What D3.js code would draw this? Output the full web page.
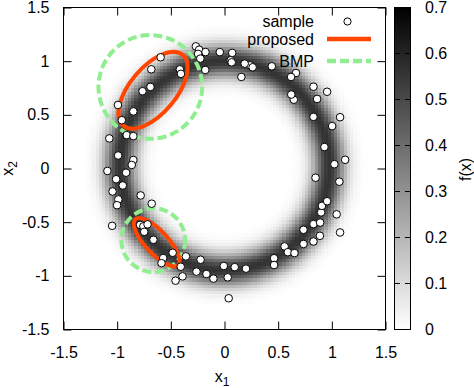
<!DOCTYPE html>
<html>
<head>
<meta charset="utf-8">
<script src="https://cdn.jsdelivr.net/npm/d3@7"></script>
<style>
  body { margin: 0; background: #fff; }
  text { font-family: "Liberation Sans", Arial, sans-serif; fill: #000; }
</style>
</head>
<body>
<div id="chart"></div>
<script>
// axis ticks
const xTicks = [-1.5, -1, -0.5, 0, 0.5, 1, 1.5];
const yTicks = [-1.5, -1, -0.5, 0, 0.5, 1, 1.5];
const cbTicks = [0, 0.1, 0.2, 0.3, 0.4, 0.5, 0.6, 0.7];

// ring shaped target density f(x)
const ringCenter = [0, 0.03];
const ringRadius = 0.975;
const ringSigma = 0.105;
const ringPeak = 0.56;

// samples [x1, x2]
const samples = [
    [-0.595, 1.036], [-0.682, 0.924], [-0.416, 0.924], [-0.406, 0.882], [-0.690, 0.760],
    [-0.764, 0.720], [-0.849, 0.532], [-0.993, 0.592], [-0.957, 0.450], [-0.911, 0.311],
    [-0.849, 0.302], [-1.073, 0.280], [-0.991, 0.121], [-0.849, 0.079], [-0.864, 0.033],
    [-1.091, -0.023], [-0.917, -0.039], [-1.010, -0.100], [-0.948, -0.158], [-1.043, -0.214],
    [-0.781, -0.251], [-0.989, -0.288], [-1.001, -0.342], [-0.678, -0.328], [-1.047, -0.534],
    [-0.787, -0.525], [-0.756, -0.539], [-0.717, -0.520], [-0.748, -0.590], [-0.662, -0.664],
    [-0.483, -0.785], [-0.571, -0.834], [-0.360, -0.819], [-0.408, -0.915], [-0.391, -1.005],
    [-0.456, -1.045], [-0.223, -0.850], [-0.261, -0.961], [-0.168, -0.983], [-0.103, -1.026],
    [-0.007, -0.908], [0.095, -0.919], [0.030, -1.014], [0.039, -1.209], [0.200, -0.933],
    [0.462, -0.836], [0.462, -0.899], [0.560, -0.726], [0.590, -0.780], [0.652, -0.788],
    [0.736, -0.571], [0.736, -0.703], [0.829, -0.518], [0.829, -0.680], [0.889, -0.627],
    [0.891, -0.504], [0.900, -0.409], [0.908, -0.348], [0.956, -0.305], [1.045, -0.427],
    [1.077, -0.596], [0.848, -0.086], [1.070, -0.123], [1.024, 0.040], [1.124, 0.081],
    [0.931, 0.200], [1.003, 0.395], [0.829, 0.481], [1.077, 0.478], [0.646, 0.641],
    [0.622, 0.689], [0.863, 0.648], [0.829, 0.762], [0.956, 0.715], [0.666, 0.890],
    [0.620, 0.853], [0.441, 0.952], [0.239, 0.961], [0.262, 0.943], [0.188, 0.977],
    [0.157, 0.853], [0.072, 1.077], [0.058, 1.008], [0.067, 0.989], [-0.044, 1.084],
    [-0.267, 1.138], [-0.236, 1.107], [-0.177, 1.085], [-0.246, 1.068], [-0.225, 1.024],
    [-0.179, 0.918], [-0.587, -0.882]
];

// ellipses [cx, cy, semi-axis a, semi-axis b, angle in degrees]
const proposed = [
    [-0.666, 0.729, 0.43, 0.215, 50],
    [-0.632, -0.687, 0.292, 0.105, -47]
];
const bmp = [
    [-0.691, 0.760, 0.483, 0.483, 0],
    [-0.664, -0.667, 0.297, 0.297, 0]
];

const legendLabels = ['sample', 'proposed', 'BMP'];

class RingChart {

    constructor() {
        this.svg = d3.select('#chart')
            .append('svg')
            .attr('width', 474)
            .attr('height', 388)
        ;
        this.left = 63.5;
        this.right = 385.5;
        this.top = 7.5;
        this.bottom = 329.5;
        this.x = d3.scaleLinear().domain([-1.5, 1.5]).range([this.left, this.right]);
        this.y = d3.scaleLinear().domain([-1.5, 1.5]).range([this.bottom, this.top]);
        this.color = d3.scaleLinear().domain([0, 0.7]).range(['#ffffff', '#000000']).clamp(true);

        this.drawDensity();
        this.drawEllipses();
        this.drawSamples();
        this.drawAxes();
        this.drawColorBar();
        this.drawLegend();
    };

    density(a, b) {
        let r = Math.hypot(a - ringCenter[0], b - ringCenter[1]);
        return ringPeak * Math.exp(-(r - ringRadius) * (r - ringRadius) / (2 * ringSigma * ringSigma));
    }

    drawDensity() {
        // 100 x 100 grid like the pm3d map
        let n = 100;
        let step = 3 / n;
        let cells = [];
        for (let i = 0; i < n; i++) {
            for (let j = 0; j < n; j++) {
                let x0 = -1.5 + i * step;
                let y0 = -1.5 + j * step;
                cells.push({x0: x0, y0: y0, v: this.density(x0 + step / 2, y0 + step / 2)});
            }
        }
        let thiss = this;
        this.svg.append('g')
            .selectAll('rect')
            .data(cells.filter(d => d.v > 0.004))
            .enter()
            .append('rect')
            .attr('x', d => thiss.x(d.x0))
            .attr('y', d => thiss.y(d.y0 + step))
            .attr('width', thiss.x(step) - thiss.x(0) + 0.4)
            .attr('height', thiss.y(0) - thiss.y(step) + 0.4)
            .attr('shape-rendering', 'crispEdges')
            .style('fill', d => thiss.color(d.v))
        ;
    }

    ellipse(g, list, color, dash) {
        let thiss = this;
        g.selectAll(null)
            .data(list)
            .enter()
            .append('ellipse')
            .attr('cx', 0)
            .attr('cy', 0)
            .attr('rx', d => thiss.x(d[2]) - thiss.x(0))
            .attr('ry', d => thiss.x(d[3]) - thiss.x(0))
            .attr('transform', d => `translate(${thiss.x(d[0])}, ${thiss.y(d[1])}) rotate(${-d[4]})`)
            .style('fill', 'none')
            .style('stroke', color)
            .style('stroke-width', 4)
            .style('stroke-dasharray', dash)
        ;
    }

    drawEllipses() {
        let g = this.svg.append('g');
        this.ellipse(g, bmp, '#90ee90', '9,4');
        this.ellipse(g, proposed, '#ff4500', null);
    }

    drawSamples() {
        let thiss = this;
        this.svg.append('g')
            .selectAll('circle')
            .data(samples)
            .enter()
            .append('circle')
            .attr('cx', d => thiss.x(d[0]))
            .attr('cy', d => thiss.y(d[1]))
            .attr('r', 3.8)
            .style('fill', 'white')
            .style('stroke', 'black')
            .style('stroke-width', 1)
        ;
    }

    drawAxes() {
        let fmt = d => String(d);
        let bottom = this.svg.append('g')
            .attr('transform', `translate(0, ${this.bottom})`)
            .call(d3.axisBottom(this.x).tickValues(xTicks).tickSize(-8).tickPadding(17.5).tickFormat(fmt));
        let topAx = this.svg.append('g')
            .attr('transform', `translate(0, ${this.top})`)
            .call(d3.axisTop(this.x).tickValues(xTicks).tickSize(-8).tickFormat(''));
        let leftAx = this.svg.append('g')
            .attr('transform', `translate(${this.left}, 0)`)
            .call(d3.axisLeft(this.y).tickValues(yTicks).tickSize(-8).tickPadding(14).tickFormat(fmt));
        let rightAx = this.svg.append('g')
            .attr('transform', `translate(${this.right}, 0)`)
            .call(d3.axisRight(this.y).tickValues(yTicks).tickSize(-8).tickFormat(''));
        [bottom, topAx, leftAx, rightAx].forEach(g => {
            g.select('.domain').remove();
            g.selectAll('text').style('font-size', '16px').style('font-family', '"Liberation Sans", Arial, sans-serif');
            g.selectAll('line').attr('stroke', '#000');
        });
        // frame
        this.svg.append('rect')
            .attr('x', this.left)
            .attr('y', this.top)
            .attr('width', this.right - this.left)
            .attr('height', this.bottom - this.top)
            .style('fill', 'none')
            .style('stroke', 'black')
            .style('stroke-width', 1)
        ;
        // axis titles
        let xt = this.svg.append('text')
            .attr('x', 222)
            .attr('y', 382)
            .attr('text-anchor', 'middle')
            .style('font-size', '16px')
        ;
        xt.append('tspan').text('x');
        xt.append('tspan').text('1').attr('dy', 4).style('font-size', '12px');
        let yt = this.svg.append('text')
            .attr('transform', 'translate(13, 168.5) rotate(-90)')
            .attr('text-anchor', 'middle')
            .style('font-size', '16px')
        ;
        yt.append('tspan').text('x');
        yt.append('tspan').text('2').attr('dy', 3.5).style('font-size', '12px');
    }

    drawColorBar() {
        let bx = 394.5;
        let bw = 16;
        let cb = d3.scaleLinear().domain([0, 0.7]).range([this.bottom, this.top]);
        let grad = this.svg.append('defs')
            .append('linearGradient')
            .attr('id', 'cbgrad')
            .attr('x1', '0%').attr('x2', '0%')
            .attr('y1', '100%').attr('y2', '0%')
        ;
        grad.selectAll('stop')
            .data(cbTicks)
            .enter()
            .append('stop')
            .attr('offset', d => (100 * d / 0.7) + '%')
            .style('stop-color', d => this.color(d))
        ;
        this.svg.append('rect')
            .attr('x', bx)
            .attr('y', this.top)
            .attr('width', bw)
            .attr('height', this.bottom - this.top)
            .style('fill', 'url(#cbgrad)')
            .style('stroke', 'black')
            .style('stroke-width', 1)
        ;
        let t = this.svg.append('g').selectAll('g')
            .data(cbTicks)
            .enter()
            .append('g')
            .attr('transform', d => `translate(0, ${cb(d)})`)
        ;
        t.append('line').attr('x1', bx).attr('x2', bx + 5.5).style('stroke', 'black');
        t.append('line').attr('x1', bx + bw - 5.5).attr('x2', bx + bw).style('stroke', 'black');
        t.append('text')
            .attr('x', 425)
            .attr('dy', '0.32em')
            .style('font-size', '16px')
            .text(d => String(d))
        ;
        this.svg.append('text')
            .attr('transform', 'translate(471, 169.5) rotate(-90)')
            .attr('text-anchor', 'middle')
            .style('font-size', '16px')
            .text('f(x)')
        ;
    }

    drawLegend() {
        let rows = [21.5, 39, 61];
        this.svg.append('g').selectAll('text')
            .data(legendLabels)
            .enter()
            .append('text')
            .attr('x', 314)
            .attr('y', (d, i) => rows[i])
            .attr('dy', '0.35em')
            .attr('text-anchor', 'end')
            .style('font-size', '16px')
            .text(d => d)
        ;
        this.svg.append('circle')
            .attr('cx', 347.5)
            .attr('cy', rows[0])
            .attr('r', 3.6)
            .style('fill', 'white')
            .style('stroke', 'black')
        ;
        this.svg.append('line')
            .attr('x1', 327).attr('x2', 371)
            .attr('y1', rows[1]).attr('y2', rows[1])
            .style('stroke', '#ff4500')
            .style('stroke-width', 4.5)
        ;
        this.svg.append('line')
            .attr('x1', 327).attr('x2', 371)
            .attr('y1', rows[2]).attr('y2', rows[2])
            .style('stroke', '#90ee90')
            .style('stroke-width', 4.5)
            .style('stroke-dasharray', '9,4')
        ;
    }
}

new RingChart();
</script>
</body>
</html>
